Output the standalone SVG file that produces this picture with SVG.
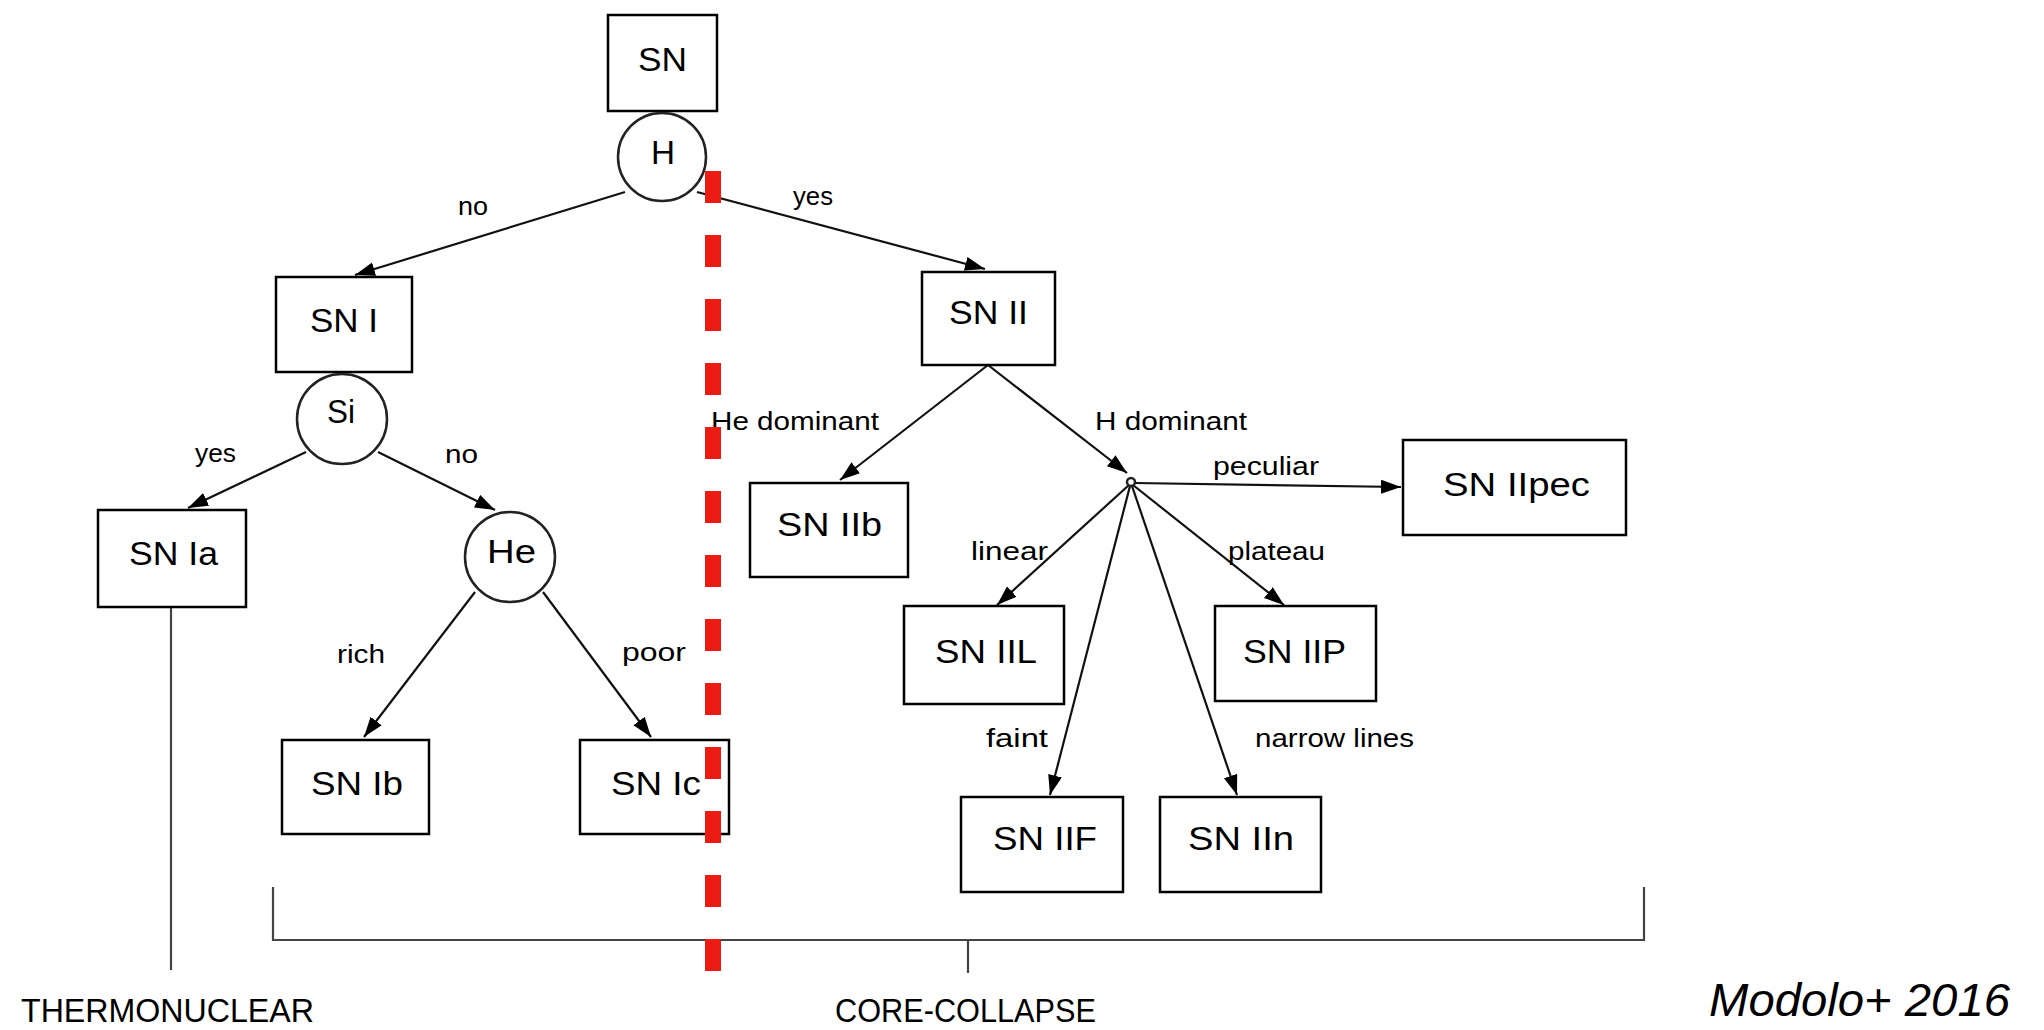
<svg xmlns="http://www.w3.org/2000/svg" width="2044" height="1030" viewBox="0 0 2044 1030">
<style>
.box{fill:#fff;stroke:#000;stroke-width:2.5}
.circ{fill:#fff;stroke:#222;stroke-width:2.5}
.edge{fill:none;stroke:#111;stroke-width:2.2}
.brk{fill:none;stroke:#444;stroke-width:2.2}
.nt{font-family:"Liberation Sans",Arial,sans-serif;font-size:34px;fill:#000}
.lt{font-family:"Liberation Sans",Arial,sans-serif;font-size:26px;fill:#000}
.bt{font-family:"Liberation Sans",Arial,sans-serif;font-size:33px;fill:#000}
.cite{font-family:"Liberation Sans",Arial,sans-serif;font-size:46px;font-style:italic;fill:#000}
</style>
<defs>
<marker id="ah" markerUnits="userSpaceOnUse" markerWidth="22" markerHeight="16" refX="20" refY="7" orient="auto">
<path d="M0,0 L20,7 L0,14 z" fill="#000"/>
</marker>
</defs>
<rect width="2044" height="1030" fill="#fff"/>
<g id="connectors">
<line class="edge" x1="625" y1="192" x2="355" y2="275" marker-end="url(#ah)"/>
<line class="edge" x1="697" y1="192" x2="985" y2="269" marker-end="url(#ah)"/>
<line class="edge" x1="306" y1="452" x2="188" y2="508" marker-end="url(#ah)"/>
<line class="edge" x1="378" y1="452" x2="495" y2="510" marker-end="url(#ah)"/>
<line class="edge" x1="475" y1="592" x2="364" y2="737" marker-end="url(#ah)"/>
<line class="edge" x1="543" y1="592" x2="651" y2="737" marker-end="url(#ah)"/>
<line class="edge" x1="988" y1="365" x2="840" y2="480" marker-end="url(#ah)"/>
<line class="edge" x1="988" y1="365" x2="1127" y2="473" marker-end="url(#ah)"/>
<line class="edge" x1="1135" y1="483" x2="1401" y2="487" marker-end="url(#ah)"/>
<line class="edge" x1="1129" y1="485" x2="997" y2="605" marker-end="url(#ah)"/>
<line class="edge" x1="1133" y1="485" x2="1284" y2="605" marker-end="url(#ah)"/>
<line class="edge" x1="1130" y1="486" x2="1050" y2="795" marker-end="url(#ah)"/>
<line class="edge" x1="1132" y1="486" x2="1237" y2="795" marker-end="url(#ah)"/>
<path class="brk" d="M171,607 V970"/>
<path class="brk" d="M273,887 V940 H1644 V887"/>
<path class="brk" d="M968,940 V973"/>
<text class="lt" x="458" y="215" textLength="30" lengthAdjust="spacingAndGlyphs">no</text>
<text class="lt" x="793" y="205" textLength="40" lengthAdjust="spacingAndGlyphs">yes</text>
<text class="lt" x="195" y="462" textLength="41" lengthAdjust="spacingAndGlyphs">yes</text>
<text class="lt" x="445" y="463" textLength="33" lengthAdjust="spacingAndGlyphs">no</text>
<text class="lt" x="337" y="663" textLength="48" lengthAdjust="spacingAndGlyphs">rich</text>
<text class="lt" x="622" y="661" textLength="64" lengthAdjust="spacingAndGlyphs">poor</text>
<text class="lt" x="711" y="430" textLength="168" lengthAdjust="spacingAndGlyphs">He dominant</text>
<text class="lt" x="1095" y="430" textLength="152" lengthAdjust="spacingAndGlyphs">H dominant</text>
<text class="lt" x="1213" y="475" textLength="106" lengthAdjust="spacingAndGlyphs">peculiar</text>
<text class="lt" x="971" y="560" textLength="77" lengthAdjust="spacingAndGlyphs">linear</text>
<text class="lt" x="1228" y="560" textLength="97" lengthAdjust="spacingAndGlyphs">plateau</text>
<text class="lt" x="986" y="747" textLength="62" lengthAdjust="spacingAndGlyphs">faint</text>
<text class="lt" x="1255" y="747" textLength="159" lengthAdjust="spacingAndGlyphs">narrow lines</text>
</g>
<g id="n-sn"><rect class="box" x="608" y="15" width="109" height="96"/><text class="nt" x="638" y="71" font-size="38" textLength="49" lengthAdjust="spacingAndGlyphs">SN</text></g>
<g id="n-h"><circle class="circ" cx="662" cy="157" r="44"/><text class="nt" x="651" y="164" font-size="36" textLength="24" lengthAdjust="spacingAndGlyphs">H</text></g>
<g id="n-sni"><rect class="box" x="276" y="277" width="136" height="95"/><text class="nt" x="310" y="332" textLength="68" lengthAdjust="spacingAndGlyphs">SN I</text></g>
<g id="n-si"><circle class="circ" cx="342" cy="419" r="45"/><text class="nt" x="327" y="423" textLength="28" lengthAdjust="spacingAndGlyphs">Si</text></g>
<g id="n-snia"><rect class="box" x="98" y="510" width="148" height="97"/><text class="nt" x="129" y="565" textLength="89" lengthAdjust="spacingAndGlyphs">SN Ia</text></g>
<g id="n-he"><circle class="circ" cx="510" cy="557" r="45"/><text class="nt" x="487" y="563" font-size="36" textLength="49" lengthAdjust="spacingAndGlyphs">He</text></g>
<g id="n-snib"><rect class="box" x="282" y="740" width="147" height="94"/><text class="nt" x="311" y="795" textLength="92" lengthAdjust="spacingAndGlyphs">SN Ib</text></g>
<g id="n-snic"><rect class="box" x="580" y="740" width="149" height="94"/><text class="nt" x="611" y="795" textLength="90" lengthAdjust="spacingAndGlyphs">SN Ic</text></g>
<g id="n-snii"><rect class="box" x="922" y="272" width="133" height="93"/><text class="nt" x="949" y="324" textLength="79" lengthAdjust="spacingAndGlyphs">SN II</text></g>
<g id="n-sniib"><rect class="box" x="750" y="483" width="158" height="94"/><text class="nt" x="777" y="536" textLength="105" lengthAdjust="spacingAndGlyphs">SN IIb</text></g>
<g id="n-junction"><circle class="circ" cx="1131" cy="482" r="4" stroke-width="1.5"/></g>
<g id="n-sniipec"><rect class="box" x="1403" y="440" width="223" height="95"/><text class="nt" x="1443" y="496" textLength="147" lengthAdjust="spacingAndGlyphs">SN IIpec</text></g>
<g id="n-sniil"><rect class="box" x="904" y="606" width="160" height="98"/><text class="nt" x="935" y="663" textLength="102" lengthAdjust="spacingAndGlyphs">SN IIL</text></g>
<g id="n-sniip"><rect class="box" x="1215" y="606" width="161" height="95"/><text class="nt" x="1243" y="663" textLength="103" lengthAdjust="spacingAndGlyphs">SN IIP</text></g>
<g id="n-sniif"><rect class="box" x="961" y="797" width="162" height="95"/><text class="nt" x="993" y="850" textLength="104" lengthAdjust="spacingAndGlyphs">SN IIF</text></g>
<g id="n-sniin"><rect class="box" x="1160" y="797" width="161" height="95"/><text class="nt" x="1188" y="850" textLength="106" lengthAdjust="spacingAndGlyphs">SN IIn</text></g>
<g id="captions">
<text class="bt" x="21" y="1022" textLength="293" lengthAdjust="spacingAndGlyphs">THERMONUCLEAR</text>
<text class="bt" x="835" y="1022" textLength="261" lengthAdjust="spacingAndGlyphs">CORE-COLLAPSE</text>
<text class="cite" x="1709" y="1016" textLength="301" lengthAdjust="spacingAndGlyphs">Modolo+ 2016</text>
</g>
<g id="divider">
<line x1="713" y1="171" x2="713" y2="971" stroke="#ec1c14" stroke-width="16" stroke-dasharray="32 32"/>
</g>
</svg>
